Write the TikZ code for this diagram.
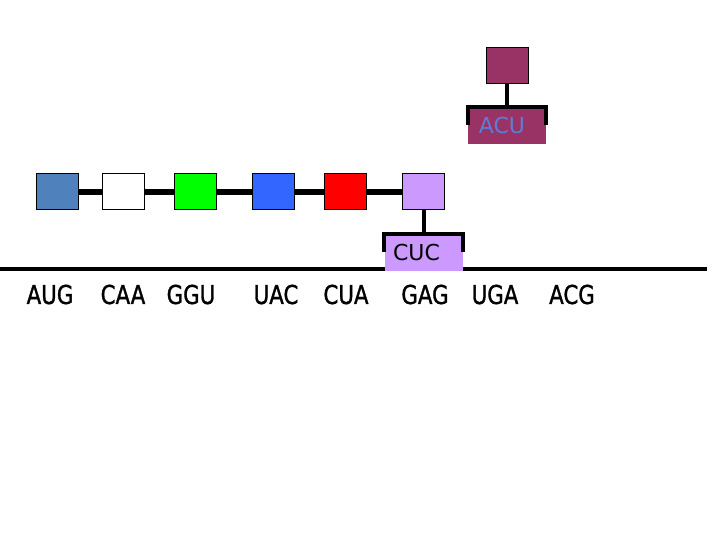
\documentclass[tikz,border=0pt]{standalone}
\usepackage{fontspec}
\setmainfont{DejaVu Sans}
\newfontfamily\codonfont{DejaVu Sans}[FakeStretch=0.82, FakeBold=1.2]
\definecolor{steelbox}{HTML}{4F81BD}
\definecolor{bluebox}{HTML}{3366FF}
\definecolor{lavender}{HTML}{CC99FF}
\definecolor{maroon}{HTML}{993366}
\definecolor{acutext}{HTML}{5A7FD2}

\begin{document}
\begin{tikzpicture}[x=1pt,y=-1pt,
  amino/.style={draw=black, line width=1pt, minimum width=42pt, minimum height=36pt, inner sep=0pt},
  anticodon/.style={minimum width=78pt, minimum height=37pt, inner sep=0pt, anchor=north, font=\fontsize{22}{26}\selectfont},
  codon/.style={font=\codonfont\fontsize{26}{30}\selectfont, inner sep=0pt},
  link/.style={line width=6pt},
  stem/.style={line width=4pt}]
\useasboundingbox (0,0) rectangle (720,540);

% growing chain
\node[amino, fill=steelbox] (a1) at (57.5,192) {};
\node[amino, fill=white] (a2) at (123.5,192) {};
\node[amino, fill=green] (a3) at (195.5,192) {};
\node[amino, fill=bluebox] (a4) at (273,192) {};
\node[amino, fill=red] (a5) at (345,192) {};
\node[amino, fill=lavender] (a6) at (423.5,192) {};
\foreach \i/\j in {a1/a2,a2/a3,a3/a4,a4/a5,a5/a6}
  \draw[link] (\i) -- (\j);

% mRNA
\coordinate (m0) at (0,269);
\coordinate (m1) at (707,269);
\draw[stem] (m0) -- (m1);
\foreach \x/\t/\n in {50/AUG/c1,123/CAA/c2,191/GGU/c3,276/UAC/c4,346/CUA/c5,425/GAG/c6,495/UGA/c7,572/ACG/c8}
  \node[codon] (\n) at (\x,294.5) {\t};

% tRNA on the mRNA
\node[anticodon, fill=lavender] (cuc) at (423.5,234) {\hspace*{-14pt}CUC};
\draw[stem] (a6.south) -- (cuc.north);
\draw[stem] ([yshift=-18pt]cuc.north west) -- (cuc.north west) -- (cuc.north east) -- ([yshift=-18pt]cuc.north east);

% incoming tRNA
\node[amino, fill=maroon] (t1) at (507,66) {};
\node[anticodon, fill=maroon, text=acutext] (acu) at (507,107) {\hspace*{-10pt}ACU};
\draw[stem] (t1.south) -- (acu.north);
\draw[stem] ([yshift=-18pt]acu.north west) -- (acu.north west) -- (acu.north east) -- ([yshift=-18pt]acu.north east);
\end{tikzpicture}
\end{document}
